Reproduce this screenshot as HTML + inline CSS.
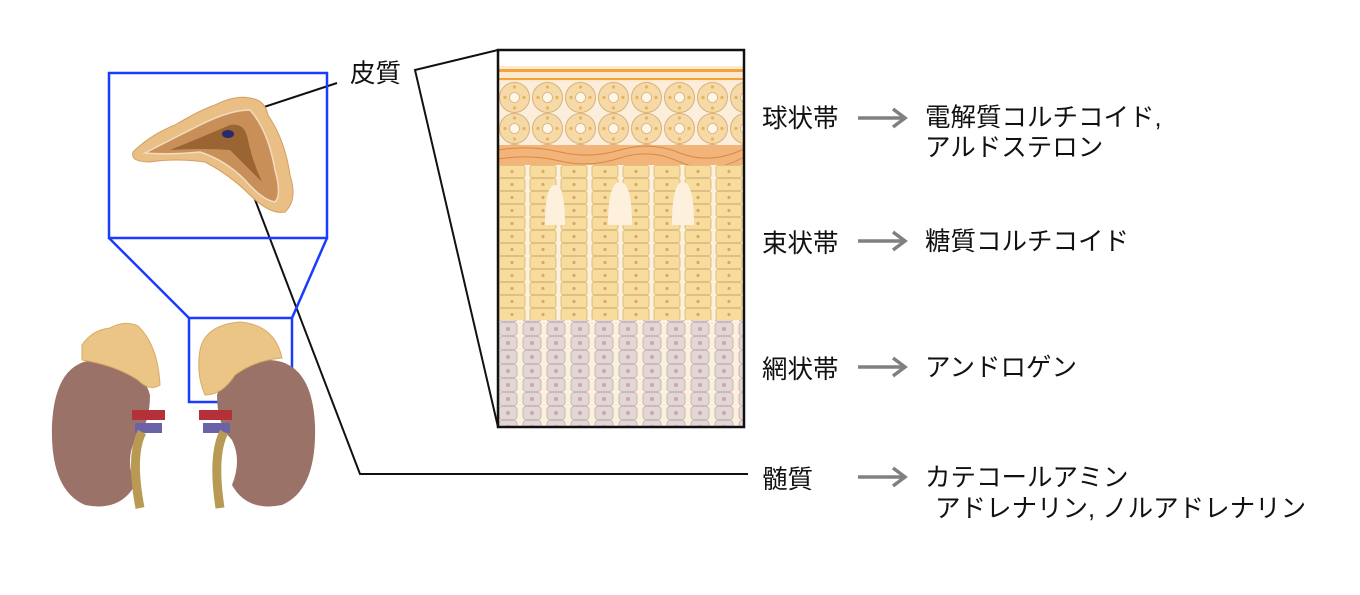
<!DOCTYPE html>
<html><head><meta charset="utf-8"><style>
html,body{margin:0;padding:0;background:#fff;}
svg{display:block;}
text{font-family:"Liberation Sans","Noto Sans CJK JP",sans-serif;font-size:25.5px;fill:#111;}
</style></head><body>
<svg width="1360" height="595" viewBox="0 0 1360 595" xmlns="http://www.w3.org/2000/svg">
<defs>
<pattern id="glom" x="498" y="82" width="33" height="31" patternUnits="userSpaceOnUse">
<rect width="33" height="31" fill="#fbeedd"/>
<circle cx="16.5" cy="15.5" r="15" fill="#f5d9a6" stroke="#d9b27a" stroke-width="1"/>
<circle cx="16.5" cy="15.5" r="5" fill="#fff6ea" stroke="#d9b27a" stroke-width="0.8"/>
<circle cx="16.5" cy="5" r="1.6" fill="#eab35b"/><circle cx="26" cy="15.5" r="1.6" fill="#eab35b"/>
<circle cx="7" cy="15.5" r="1.6" fill="#eab35b"/><circle cx="16.5" cy="26" r="1.6" fill="#eab35b"/>
</pattern>
<pattern id="fasc" x="498" y="165" width="31" height="13" patternUnits="userSpaceOnUse">
<rect width="31" height="13" fill="#fdf1de"/>
<rect x="1" y="0.5" width="26" height="12" rx="2" fill="#f7dc9e" stroke="#d6b56e" stroke-width="0.8"/>
<circle cx="14" cy="6.5" r="1.6" fill="#d9a867"/>
</pattern>
<pattern id="ret" x="498" y="322" width="24" height="14" patternUnits="userSpaceOnUse">
<rect width="24" height="14" fill="#fcefdc"/>
<rect x="1" y="0.5" width="18" height="13" rx="3" fill="#e2d6d6" stroke="#bdaeae" stroke-width="0.8"/>
<circle cx="10" cy="7" r="2" fill="#c9a8a8"/>
</pattern>
</defs>

<!-- histology panel -->
<rect x="498" y="50" width="246" height="377" fill="#fff"/>
<rect x="498" y="66" width="246" height="16" fill="#fde9cf"/>
<rect x="498" y="69" width="246" height="3" fill="#f2a33a"/>
<rect x="498" y="78" width="246" height="2" fill="#f2a33a"/>
<rect x="498" y="82" width="246" height="63" fill="url(#glom)"/>
<rect x="498" y="145" width="246" height="20" fill="#f2b478"/>
<path d="M498 150 Q530 145 560 152 T620 150 T680 153 T744 149" stroke="#d9884a" fill="none"/>
<path d="M498 159 Q530 154 560 161 T620 158 T680 162 T744 157" stroke="#d9884a" fill="none"/>
<rect x="498" y="165" width="246" height="155" fill="url(#fasc)"/>
<path d="M545 225 Q545 185 555 185 Q565 185 565 225 Z M608 225 Q608 182 620 182 Q632 182 632 225 Z M672 225 Q672 182 683 182 Q694 182 694 225 Z" fill="#fdf1de"/>
<rect x="498" y="320" width="246" height="107" fill="url(#ret)"/>
<rect x="498" y="50" width="246" height="377" fill="none" stroke="#111" stroke-width="2.5"/>

<!-- connector lines -->
<g stroke="#111" stroke-width="2" fill="none">
<path d="M498 50 L415 70 L498 427"/>
<path d="M252 111 L337 83"/>
<path d="M233 142 L360 474 L748 474"/>
</g>
<text x="350" y="82">皮質</text>

<!-- blue zoom -->
<g stroke="#1a3cff" stroke-width="2.5" fill="none">
<rect x="109" y="73" width="218" height="165"/>
<rect x="189" y="318" width="103" height="84"/>
<path d="M109 238 L189 318 M327 238 L292 318"/>
</g>

<!-- adrenal cross-section -->
<path d="M133 152 Q150 135 175 125 Q200 110 215 105 Q235 95 250 98 Q265 100 268 115 Q285 140 290 175 Q298 200 285 212 Q270 215 250 195 Q230 175 205 162 Q175 158 150 162 Q130 162 133 152 Z" fill="#e9bf85" stroke="#d3a060"/>
<path d="M145 153 Q170 140 200 125 Q230 110 250 110 Q268 130 275 170 Q282 195 275 202 Q262 200 245 180 Q225 160 200 152 Q170 155 145 153 Z" fill="#c89058" stroke="#f2dcc0" stroke-width="1.5"/>
<path d="M170 150 Q200 138 230 125 Q245 122 248 140 Q252 160 262 182 Q245 165 230 150 Q205 148 170 150 Z" fill="#9a6533"/>
<ellipse cx="228" cy="134" rx="6" ry="4" fill="#2a2a6a"/>

<!-- kidneys -->
<g>
<path d="M95 360 Q55 362 52 425 Q50 490 85 505 Q120 512 135 485 Q125 460 135 440 Q150 425 150 395 Q140 360 95 360 Z" fill="#9b7268"/>
<path d="M82 345 Q92 330 110 328 Q125 320 138 326 Q158 345 160 385 Q150 392 138 380 Q115 365 82 360 Z" fill="#ebc585" stroke="#d8ab66"/>
<path d="M132 410 L165 410 L165 420 L132 420 Z" fill="#b5313a"/>
<path d="M135 423 L162 423 L162 433 L135 433 Z" fill="#6a63a8"/>
<path d="M142 432 Q130 455 140 508" stroke="#b99a55" stroke-width="9" fill="none"/>

<path d="M270 360 Q312 362 315 425 Q317 490 282 505 Q247 512 232 485 Q242 460 232 440 Q217 425 217 395 Q227 360 270 360 Z" fill="#9b7268"/>
<path d="M200 350 Q205 325 240 322 Q275 325 282 358 Q255 360 235 375 Q222 395 205 395 Q196 375 200 350 Z" fill="#ebc585" stroke="#d8ab66"/>
<path d="M199 410 L232 410 L232 420 L199 420 Z" fill="#b5313a"/>
<path d="M203 423 L230 423 L230 433 L203 433 Z" fill="#6a63a8"/>
<path d="M224 432 Q212 455 220 508" stroke="#b99a55" stroke-width="9" fill="none"/>
</g>

<!-- arrows -->
<g stroke="#808080" stroke-width="3.5" fill="none">
<path d="M858 118 L903 118 M893 109 L905 118 L893 127"/>
<path d="M858 241 L903 241 M893 232 L905 241 L893 250"/>
<path d="M858 367 L903 367 M893 358 L905 367 L893 376"/>
<path d="M858 477 L903 477 M893 468 L905 477 L893 486"/>
</g>

<text x="762" y="127">球状帯</text>
<text x="925" y="126">電解質コルチコイド,</text>
<text x="925" y="156">アルドステロン</text>
<text x="762" y="252">束状帯</text>
<text x="925" y="250">糖質コルチコイド</text>
<text x="762" y="378">網状帯</text>
<text x="925" y="376">アンドロゲン</text>
<text x="762" y="488">髄質</text>
<text x="925" y="486">カテコールアミン</text>
<text x="935" y="517">アドレナリン, ノルアドレナリン</text>
</svg>
</body></html>
